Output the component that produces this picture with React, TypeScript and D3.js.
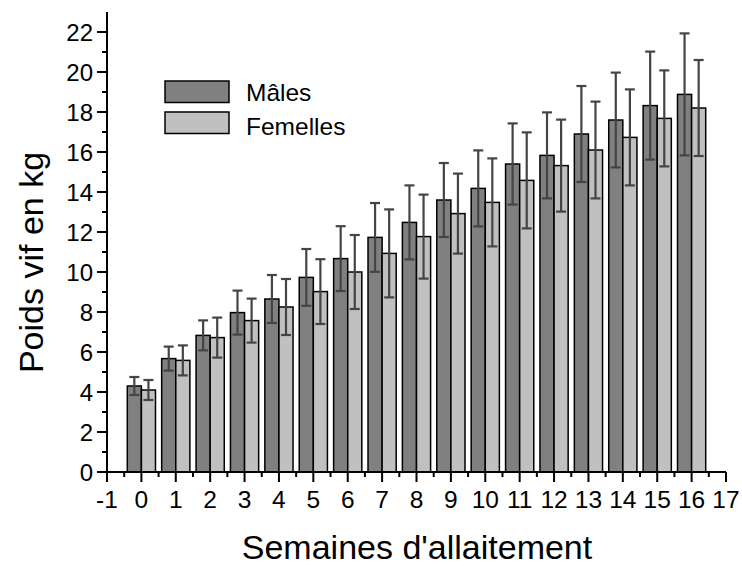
import React from "react";
import * as d3 from "d3";

const weeks = [0, 1, 2, 3, 4, 5, 6, 7, 8, 9, 10, 11, 12, 13, 14, 15, 16];
const males = [4.3, 5.67, 6.83, 7.97, 8.65, 9.73, 10.67, 11.73, 12.48, 13.6, 14.18, 15.4, 15.83, 16.9, 17.6, 18.32, 18.88];
const malesSD = [0.45, 0.6, 0.75, 1.1, 1.2, 1.42, 1.62, 1.72, 1.85, 1.85, 1.9, 2.03, 2.15, 2.4, 2.37, 2.7, 3.05];
const females = [4.1, 5.58, 6.72, 7.57, 8.25, 9.02, 10.0, 10.93, 11.77, 12.92, 13.48, 14.58, 15.32, 16.1, 16.73, 17.68, 18.2];
const femalesSD = [0.5, 0.75, 1.0, 1.1, 1.4, 1.62, 1.85, 2.2, 2.1, 2.0, 2.2, 2.4, 2.3, 2.42, 2.4, 2.4, 2.4];
const xTicks = [-1, 0, 1, 2, 3, 4, 5, 6, 7, 8, 9, 10, 11, 12, 13, 14, 15, 16, 17];
const yTicks = [0, 2, 4, 6, 8, 10, 12, 14, 16, 18, 20, 22];
const seriesNames = ["Mâles", "Femelles"];
const seriesColors = ["#808080", "#c0c0c0"];

const W = 742, H = 566;
const L = 107, R = 726, T = 12, B = 472;
const font = "Arial, 'Liberation Sans', sans-serif";

export default function App() {
  const x = d3.scaleLinear().domain([-1, 17]).range([L, R]);
  const y = d3.scaleLinear().domain([0, 23]).range([B, T]);
  const bw = x(0.41) - x(0);
  const series = [
    { vals: males, sd: malesSD, off: -bw, color: seriesColors[0] },
    { vals: females, sd: femalesSD, off: 0, color: seriesColors[1] },
  ];
  const xMinor = d3.range(-0.5, 17, 1);
  const yMinor = d3.range(1, 23, 2);
  return (
    <svg width={W} height={H} style={{ position: "absolute", left: 0, top: 0 }} fontFamily={font}>
      <rect width={W} height={H} fill="#fff" />
      {series.map((s, si) =>
        weeks.map((w, i) => (
          <rect key={`b${si}-${i}`} x={x(w) + s.off} y={y(s.vals[i])} width={bw}
            height={y(0) - y(s.vals[i])} fill={s.color} stroke="#000" strokeWidth={1.5} />
        ))
      )}
      {series.map((s, si) =>
        weeks.map((w, i) => {
          const cx = x(w) + s.off + bw / 2;
          const top = y(s.vals[i] + s.sd[i]);
          const bot = y(s.vals[i] - s.sd[i]);
          return (
            <g key={`e${si}-${i}`} stroke="#444" strokeWidth={2.2}>
              <line x1={cx} x2={cx} y1={top} y2={bot} />
              <line x1={cx - 5} x2={cx + 5} y1={top} y2={top} />
              <line x1={cx - 5} x2={cx + 5} y1={bot} y2={bot} />
            </g>
          );
        })
      )}
      {/* axes */}
      <line x1={L} x2={L} y1={T} y2={B} stroke="#000" strokeWidth={2} />
      <line x1={L} x2={R} y1={B} y2={B} stroke="#000" strokeWidth={2} />
      {yTicks.map((t) => (
        <g key={`yt${t}`}>
          <line x1={L - 10} x2={L} y1={y(t)} y2={y(t)} stroke="#000" strokeWidth={2} />
          <text x={L - 14} y={y(t) + 8.5} fontSize={24} textAnchor="end" fill="#000">{t}</text>
        </g>
      ))}
      {yMinor.map((t) => (
        <line key={`ym${t}`} x1={L - 5} x2={L} y1={y(t)} y2={y(t)} stroke="#000" strokeWidth={2} />
      ))}
      {xTicks.map((t) => (
        <g key={`xt${t}`}>
          <line x1={x(t)} x2={x(t)} y1={B} y2={B + 10} stroke="#000" strokeWidth={2} />
          <text x={x(t)} y={508} fontSize={24.5} textAnchor="middle" fill="#000">{t}</text>
        </g>
      ))}
      {xMinor.map((t) => (
        <line key={`xm${t}`} x1={x(t)} x2={x(t)} y1={B} y2={B + 5} stroke="#000" strokeWidth={2} />
      ))}
      <text x={417} y={559} fontSize={34} textAnchor="middle" fill="#000">Semaines d'allaitement</text>
      <text transform={`translate(43,262.5) rotate(-90)`} fontSize={34} textAnchor="middle" fill="#000">Poids vif en kg</text>
      {/* legend */}
      {seriesNames.map((n, i) => (
        <g key={`lg${i}`}>
          <rect x={165} y={81 + i * 31} width={64} height={21.5} fill={seriesColors[i]} stroke="#000" strokeWidth={1.5} />
          <text x={246} y={101 + i * 34} fontSize={24.5} fill="#000">{n}</text>
        </g>
      ))}
    </svg>
  );
}
